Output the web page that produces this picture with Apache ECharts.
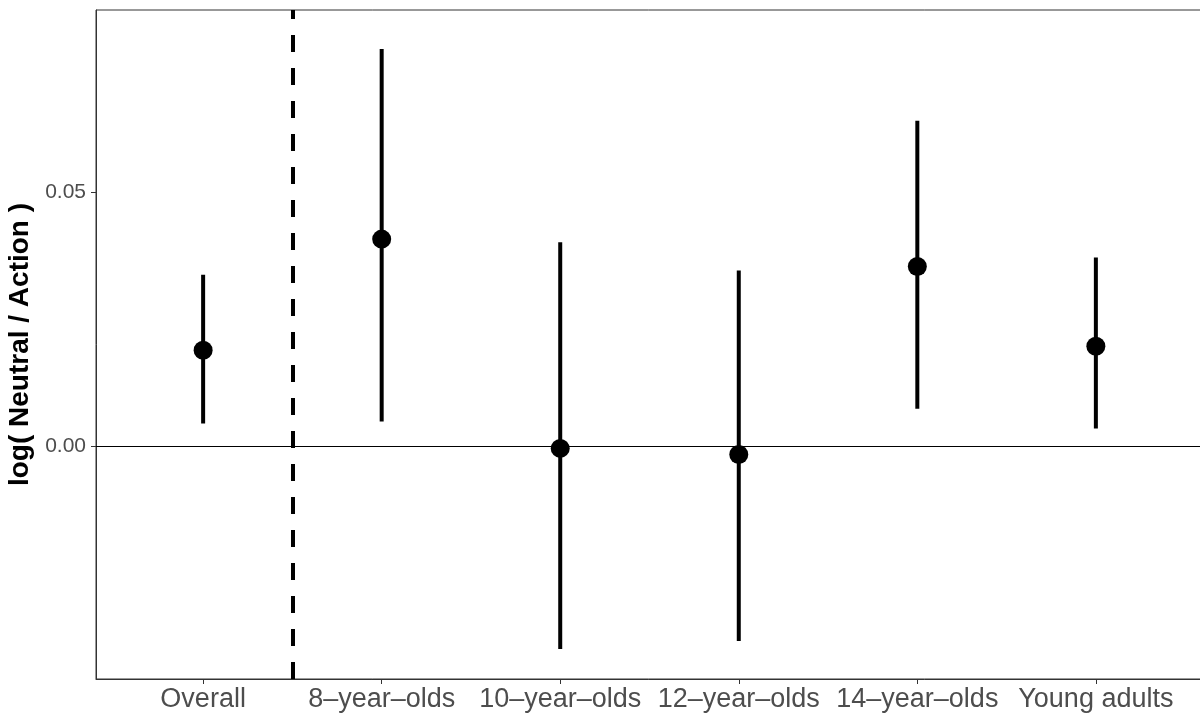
<!DOCTYPE html>
<html lang="en">
<head>
  <meta charset="UTF-8">
  <title>log( Neutral / Action )</title>
  <script src="https://cdn.jsdelivr.net/npm/echarts@6/dist/echarts.min.js"></script>
  <style>
    html, body { margin: 0; padding: 0; background: #fff; }
    #chart { width: 1200px; height: 716px; }
  </style>
</head>
<body>
  <div id="chart"></div>
  <script>
    // groups and estimates
    var aGroups = ['Overall', '8\u2013year\u2013olds', '10\u2013year\u2013olds', '12\u2013year\u2013olds', '14\u2013year\u2013olds', 'Young adults'];
    var aEstimate = [0.0189, 0.0408, -0.0004, -0.0016, 0.0354, 0.0197];
    var aLower = [0.0045, 0.0049, -0.0399, -0.0383, 0.0074, 0.0035];
    var aUpper = [0.0338, 0.0782, 0.0402, 0.0346, 0.0641, 0.0372];
    var aYTicks = [0, 0.05];

    var aPoints = [];
    var aBars = [];
    for (var i = 0; i < aGroups.length; i++) {
      aPoints.push([i + 1, aEstimate[i]]);
      aBars.push([i + 1, aLower[i], aUpper[i]]);
    }
    var aXTicks = aGroups.map(function (g, i) { return i + 1; });

    var oChart = echarts.init(document.getElementById('chart'));
    var oOpt = {
      animation: false,
      backgroundColor: '#ffffff',
      textStyle: { fontFamily: 'Liberation Sans' },
      grid: {
        left: 96, top: 10, bottom: 37, width: 1107,
        outerBoundsMode: 'none',
        containLabel: false,
        show: true, borderColor: '#333333', borderWidth: 1
      },
      xAxis: {
        type: 'value',
        min: 0.4,
        max: 6.6,
        splitLine: { show: false },
        axisLine: { show: true, onZero: false, lineStyle: { color: '#333333', width: 1 } },
        axisTick: { show: true, customValues: aXTicks, length: 5, lineStyle: { color: '#333333' } },
        axisLabel: {
          customValues: aXTicks,
          margin: 7,
          fontSize: 27,
          color: '#4d4d4d',
          formatter: function (v) { return aGroups[Math.round(v) - 1] || ''; }
        }
      },
      yAxis: {
        type: 'value',
        min: -0.0458,
        max: 0.0859,
        name: 'log( Neutral / Action )',
        nameLocation: 'middle',
        nameGap: 54,
        nameTextStyle: { fontSize: 28, fontWeight: 'bold', color: '#000000' },
        splitLine: { show: false },
        axisLine: { show: true, lineStyle: { color: '#333333', width: 1 } },
        axisTick: { show: true, customValues: aYTicks, length: 5, lineStyle: { color: '#333333' } },
        axisLabel: {
          customValues: aYTicks,
          margin: 10,
          fontSize: 21,
          color: '#4d4d4d',
          formatter: function (v) { return v.toFixed(2); }
        }
      },
      series: [
        {
          name: 'interval',
          type: 'custom',
          data: aBars,
          renderItem: function (params, api) {
            var p1 = api.coord([api.value(0), api.value(1)]);
            var p2 = api.coord([api.value(0), api.value(2)]);
            return {
              type: 'line',
              shape: { x1: p1[0], y1: p1[1], x2: p2[0], y2: p2[1] },
              style: { stroke: '#000000', lineWidth: 4 }
            };
          },
          markLine: {
            silent: true,
            symbol: 'none',
            label: { show: false },
            data: [
              { yAxis: 0, lineStyle: { color: '#000000', width: 1.2, type: 'solid' } },
              { xAxis: 1.5, lineStyle: { color: '#000000', width: 4, type: [17, 16] } }
            ]
          }
        },
        {
          name: 'estimate',
          type: 'scatter',
          data: aPoints,
          symbol: 'circle',
          symbolSize: 19,
          itemStyle: { color: '#000000', opacity: 1 },
          z: 5
        }
      ]
    };
    oChart.setOption(oOpt);
  </script>
</body>
</html>
